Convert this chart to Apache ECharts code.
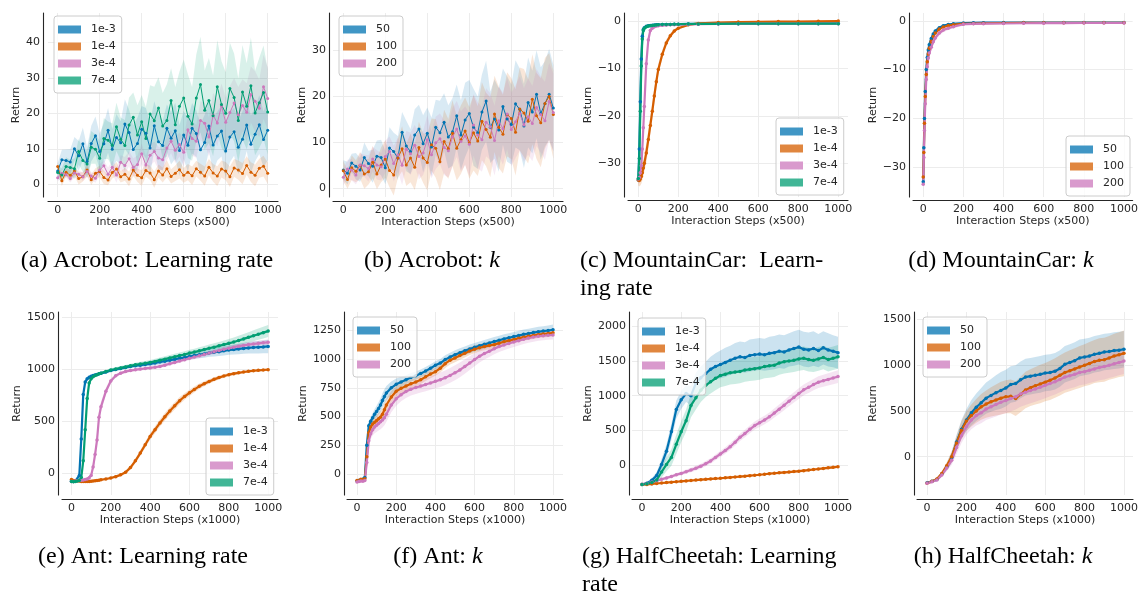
<!DOCTYPE html>
<html><head><meta charset="utf-8">
<script src="https://cdn.jsdelivr.net/npm/echarts@6/dist/echarts.min.js"></script>
<style>html,body{margin:0;padding:0;background:#fff}#c{width:1141px;height:597px}</style>
</head><body><div id="c"></div>
<script>
// ---------- x grids ----------
const acroSteps = [0,20,40,60,80,100,120,140,160,180,200,220,240,260,280,300,320,340,360,380,400,420,440,460,480,500,520,540,560,580,600,620,640,660,680,700,720,740,760,780,800,820,840,860,880,900,920,940,960,980,1000];
const mcarLrSteps = [0,5,10,15,20,25,30,40,50,60,70,80,90,100,120,140,160,180,200,250,300,400,500,600,700,800,900,1000];
const mcarKSteps = [0,3,6,10,15,20,25,30,40,50,60,80,100,125,150,200,250,300,400,500,600,700,800,900,1000];
const antSteps = [0,10,20,30,40,50,60,70,80,90,100,110,120,130,140,150,175,200,225,250,275,300,325,350,375,400,425,450,475,500,525,550,575,600,625,650,675,700,725,750,775,800,825,850,875,900,925,950,975,1000];
const cheetahSteps = [0,25,50,75,100,125,150,175,200,225,250,275,300,325,350,375,400,425,450,475,500,525,550,575,600,625,650,675,700,725,750,775,800,825,850,875,900,925,950,975,1000];

// ---------- tick labels ----------
const xTicks = [0,200,400,600,800,1000];
const yTicksA = [0,10,20,30,40];
const yTicksB = [0,10,20,30];
const yTicksC = [-30,-20,-10,0];
const yTicksD = [-30,-20,-10,0];
const yTicksE = [0,500,1000,1500];
const yTicksF = [0,250,500,750,1000,1250];
const yTicksG = [0,500,1000,1500,2000];
const yTicksH = [0,500,1000,1500];

// ---------- (a) Acrobot: learning rate ----------
const acroLr_1e3 = [3.7,6.9,6.7,6.3,10.0,8.0,11.4,6.4,11.5,13.7, 9.2,11.4,15.2,9.9,13.2,11.7,17.0,14.6,9.8,11.5, 15.5,14.4,10.2,16.5,12.0,10.9,15.8,13.0,15.1,9.5, 13.9,11.0,15.8,14.3,9.7,11.8,16.4,11.1,13.6,15.0, 9.4,13.3,14.8,10.4,12.7,16.7,11.3,14.1,16.8,12.6,15.2];
const acroLr_1e3_sd = [2.2,2.8,3.1,3.6,3.3,4.2,4.6,4.1,5.0,5.4, 5.1,5.9,6.3,5.7,6.6,6.1,7.0,6.4,6.8,7.3, 6.6,7.1,7.5,6.9,7.7,7.0,6.7,7.4,7.9,7.2, 6.8,7.5,7.1,6.6,7.3,7.8,7.0,7.6,6.9,7.2, 7.7,7.1,6.8,7.5,7.9,7.3,8.1,7.6,8.3,7.9,8.4];
const acroLr_1e4 = [5.0,1.0,3.4,2.5,3.7,1.6,2.1,4.0,1.3,3.1, 3.6,1.9,1.2,3.3,4.3,2.1,2.8,1.5,4.0,2.5, 1.8,3.9,3.2,1.3,3.7,2.6,4.4,2.2,3.1,4.1, 2.5,3.4,2.4,4.4,3.4,2.3,4.8,3.2,2.3,4.3, 3.7,2.1,4.6,4.0,3.0,5.3,3.4,2.5,4.5,5.1,3.1];
const acroLr_1e4_sd = [1.3,1.5,1.2,1.6,1.4,1.7,1.3,1.8,1.5,1.4, 1.6,1.9,1.5,1.7,2.0,1.6,1.8,2.1,1.7,1.9, 2.2,1.8,2.0,2.3,1.9,2.1,2.4,2.0,2.2,2.5, 2.1,2.3,2.6,2.2,2.4,2.7,2.3,2.5,2.8,2.4, 2.6,2.9,2.5,2.7,3.0,2.6,2.8,3.1,2.7,2.9,3.0];
const acroLr_3e4 = [1.8,3.1,2.7,1.6,3.2,2.8,2.1,3.6,2.3,1.7, 4.0,5.2,2.8,4.8,2.6,6.2,5.3,7.2,4.7,5.6, 8.6,5.4,8.2,9.2,7.4,6.9,10.2,12.1,9.6,11.2, 9.0,15.4,12.9,12.1,18.0,17.2,13.3,19.5,17.3,22.1, 17.5,20.2,22.9,19.6,22.2,20.3,25.3,23.4,21.4,27.5,24.2];
const acroLr_3e4_sd = [1.0,1.2,0.9,1.1,1.3,1.0,1.2,1.4,1.1,1.3, 1.7,1.5,1.9,1.8,2.2,2.0,2.4,2.1,2.6,2.5, 2.9,2.6,3.1,2.8,3.2,3.0,3.5,3.3,3.7,3.4, 4.0,4.3,4.9,4.6,5.4,5.8,5.5,6.2,6.6,6.3, 7.0,7.5,7.1,7.8,7.4,8.2,7.9,8.5,8.1,9.0,8.8];
const acroLr_7e4 = [3.3,2.6,5.0,4.7,4.4,9.2,6.7,5.7,10.4,9.9, 7.3,12.9,12.4,11.0,16.2,12.7,10.9,16.7,18.9,13.9, 17.6,12.9,19.8,17.9,21.5,16.4,18.0,23.6,16.8,22.0, 24.3,19.2,17.0,24.3,28.1,20.9,23.6,19.3,27.5,22.5, 20.0,27.0,24.5,18.0,26.0,22.0,27.8,20.1,23.0,25.9,20.4];
const acroLr_7e4_sd = [1.6,2.0,2.6,2.2,2.9,3.6,3.2,3.9,4.6,4.1, 5.0,5.8,5.3,6.2,6.8,6.1,7.2,7.8,7.0,8.4, 7.6,8.9,8.1,9.6,8.7,9.3,10.2,9.1,10.6,9.8, 10.9,11.8,10.4,12.3,13.5,11.2,12.0,11.4,13.1,12.2, 11.6,12.9,12.4,11.8,13.3,12.1,13.6,11.9,12.7,13.2,12.0];

// ---------- (b) Acrobot: k ----------
const acroK_50 = [3.9,3.2,5.4,4.7,3.9,6.6,5.3,4.7,6.9,6.6, 4.4,8.7,7.9,6.5,12.1,9.1,7.9,11.5,12.8,9.6, 11.9,8.9,13.2,12.0,14.3,11.1,12.2,15.7,11.5,14.8, 16.2,13.2,12.0,16.5,18.9,13.2,15.0,12.6,17.7,15.0, 13.8,18.3,17.1,13.5,18.6,16.5,20.4,16.2,18.3,20.4,17.4];
const acroK_50_sd = [2.1,2.5,2.0,2.9,2.6,3.3,2.8,3.6,3.4,3.9, 3.6,4.5,4.1,4.8,4.4,5.5,4.9,5.6,5.3,6.2, 5.6,6.4,6.0,7.0,6.3,6.9,7.4,6.8,7.6,8.1, 7.3,8.4,7.9,8.2,8.8,7.8,8.6,9.1,8.3,9.3, 8.7,9.5,8.9,9.2,9.8,9.0,9.6,10.1,9.3,9.9,9.4];
const acroK_100 = [3.7,1.8,4.4,3.6,4.9,3.0,3.5,5.6,3.0,5.0, 6.3,3.8,2.8,6.5,8.5,5.0,6.5,4.5,8.8,6.5, 5.5,9.4,8.6,5.7,10.1,8.5,11.9,8.6,10.5,12.4, 9.8,12.0,10.2,14.5,12.7,11.0,16.1,13.2,11.7,16.0, 15.1,12.1,17.2,16.3,14.5,19.3,15.7,14.2,18.4,19.9,16.0];
const acroK_100_sd = [2.2,2.0,2.7,2.4,2.9,3.2,2.8,3.5,3.3,3.8, 4.1,3.7,4.5,4.3,4.9,4.6,5.3,5.0,5.6,5.4, 6.1,5.7,6.4,6.2,6.9,6.5,7.2,7.0,7.5,7.3, 7.8,8.2,7.6,8.5,8.0,8.7,8.3,8.9,8.6,9.2, 8.8,9.4,9.0,9.6,9.2,9.8,9.4,9.7,9.9,9.5,9.6];
const acroK_200 = [2.3,4.1,3.9,2.8,5.0,4.8,4.2,6.3,5.0,4.6, 6.8,7.9,5.3,7.2,4.9,8.4,7.4,9.3,6.8,7.6, 10.5,7.2,9.8,10.7,8.8,8.1,11.1,12.8,10.1,11.3, 9.5,13.7,11.5,10.5,14.3,13.3,10.3,14.6,12.9,16.1, 12.7,14.4,16.2,13.7,15.5,14.0,17.5,16.0,14.6,18.8,16.4];
const acroK_200_sd = [1.8,2.0,2.3,2.1,2.6,2.4,2.9,2.7,3.2,3.0, 3.5,3.3,3.9,3.7,4.3,4.0,4.6,4.4,5.0,4.8, 5.3,5.1,5.7,5.5,6.0,5.8,6.3,6.1,6.6,6.4, 6.9,6.7,7.2,7.0,7.4,7.3,7.6,7.5,7.8,7.7, 8.0,7.9,8.1,8.0,8.3,8.2,8.4,8.3,8.5,8.4,8.5];

// ---------- (c) MountainCar: learning rate ----------
const mcarLr_1e3 = [-33.5,-27,-17,-8,-3.2,-1.8,-1.4, -1.1,-1.0,-0.95,-0.9,-0.85,-0.8,-0.8, -0.75,-0.7,-0.7,-0.65,-0.65, -0.6,-0.6, -0.55,-0.55,-0.5,-0.5,-0.5,-0.5,-0.5];
const mcarLr_1e3_sd = [1.0,1.5,1.8,1.5,1.0,0.6,0.4, 0.3,0.3,0.3,0.25,0.25,0.25,0.25, 0.2,0.2,0.2,0.2,0.2, 0.2,0.2, 0.2,0.2,0.2,0.2,0.2,0.2,0.2];
const mcarLr_1e4 = [-33.5,-33.6,-33.3,-32.8,-32.0,-31.0,-30.0, -27.8,-25.0,-22.0,-19.0,-15.8,-12.8,-10.2, -7.0,-4.6,-3.1,-2.1,-1.5, -0.8,-0.5, -0.3,-0.2,-0.15,-0.1,-0.1,-0.05,0.0];
const mcarLr_1e4_sd = [1.2,1.3,1.4,1.5,1.6,1.7,1.8, 2.0,2.0,1.9,1.8,1.6,1.4,1.2, 0.9,0.7,0.5,0.4,0.3, 0.2,0.2, 0.15,0.15,0.15,0.15,0.15,0.15,0.15];
const mcarLr_3e4 = [-33.3,-33.0,-32.0,-30.5,-27.0,-22.5,-18.0, -9.0,-4.0,-2.0,-1.5,-1.2,-1.05,-1.0, -0.9,-0.85,-0.8,-0.78,-0.75, -0.7,-0.65, -0.6,-0.58,-0.56,-0.55,-0.55,-0.55,-0.55];
const mcarLr_3e4_sd = [1.0,1.1,1.3,1.5,1.8,2.0,1.9, 1.2,0.8,0.5,0.4,0.3,0.3,0.3, 0.25,0.25,0.2,0.2,0.2, 0.2,0.2, 0.2,0.2,0.2,0.2,0.2,0.2,0.2];
const mcarLr_7e4 = [-33.2,-29,-19,-9.5,-3.8,-2.0,-1.5, -1.2,-1.05,-1.0,-0.95,-0.9,-0.85,-0.8, -0.75,-0.72,-0.7,-0.68,-0.66, -0.62,-0.6, -0.58,-0.56,-0.55,-0.55,-0.55,-0.55,-0.55];
const mcarLr_7e4_sd = [1.0,1.6,1.9,1.6,1.0,0.6,0.4, 0.3,0.3,0.3,0.25,0.25,0.25,0.25, 0.2,0.2,0.2,0.2,0.2, 0.2,0.2, 0.2,0.2,0.2,0.2,0.2,0.2,0.2];

// ---------- (d) MountainCar: k ----------
const mcarK_50 = [-33,-26,-20,-14.5,-10,-7.5,-6.0,-4.9, -3.6,-2.7,-2.1,-1.4,-1.0, -0.75,-0.6,-0.45,-0.4,-0.38, -0.36,-0.35,-0.35,-0.35,-0.35,-0.35,-0.35];
const mcarK_50_sd = [1.5,1.5,1.4,1.2,1.0,0.8,0.7,0.6, 0.5,0.4,0.35,0.3,0.25, 0.2,0.2,0.15,0.15,0.15, 0.1,0.1,0.1,0.1,0.1,0.1,0.1];
const mcarK_100 = [-32,-27,-21,-15.5,-11,-8.4,-6.8,-5.6, -4.2,-3.2,-2.5,-1.7,-1.25, -0.95,-0.8,-0.62,-0.55,-0.5, -0.45,-0.42,-0.42,-0.42,-0.42,-0.4,-0.4];
const mcarK_100_sd = [2.0,1.8,1.6,1.4,1.1,0.9,0.8,0.7, 0.6,0.5,0.4,0.35,0.3, 0.25,0.2,0.15,0.15,0.15, 0.1,0.1,0.1,0.1,0.1,0.1,0.1];
const mcarK_200 = [-33.5,-28,-22.5,-17,-12,-9.4,-7.6,-6.6, -5.4,-4.3,-3.5,-2.5,-1.9, -1.5,-1.2,-0.7,-0.62,-0.58, -0.55,-0.5,-0.48,-0.46,-0.45,-0.45,-0.45];
const mcarK_200_sd = [1.5,1.6,1.6,1.5,1.3,1.1,1.0,0.9, 0.8,0.7,0.6,0.5,0.45, 0.4,0.35,0.3,0.25,0.2, 0.15,0.15,0.15,0.15,0.15,0.15,0.15];

// ---------- (e) Ant: learning rate ----------
const antLr_1e3 = [-75,-78,-72,-65,-20,330,760,880,910,925, 935,942,948,952,958,965,975,990,1000,1010, 1020,1030,1036,1042,1048,1055,1063,1072,1080,1090, 1098,1108,1116,1125,1135,1142,1150,1160,1166,1172, 1180,1188,1192,1198,1203,1208,1212,1215,1218,1222];
const antLr_1e3_sd = [5,5,5,8,30,60,40,20,15,12, 12,12,12,12,12,12,14,15,16,17, 18,19,20,20,21,22,23,24,25,26, 27,28,29,30,32,34,36,38,40,42, 44,46,48,50,52,55,58,60,62,65];
const antLr_1e4 = [-60,-70,-75,-72,-75,-78,-80,-78,-80,-78, -76,-75,-72,-70,-66,-62,-55,-45,-32,-15, 10,55,120,195,275,355,420,485,545,600, 650,700,740,775,808,838,862,885,905,922, 937,950,960,968,976,982,988,992,995,998];
const antLr_1e4_sd = [5,5,5,5,5,5,5,5,5,5, 6,6,6,7,7,8,9,10,12,14, 16,18,22,26,30,32,34,35,36,36, 35,34,32,30,28,26,24,22,20,18, 17,16,15,14,13,12,12,11,11,10];
const antLr_3e4 = [-80,-78,-75,-72,-70,-68,-65,-60,-55,-45, -20,60,180,320,540,640,790,890,940,965, 980,990,998,1004,1010,1015,1022,1030,1042,1055, 1068,1082,1095,1108,1120,1132,1145,1158,1170,1182, 1195,1205,1215,1225,1232,1240,1246,1252,1258,1262];
const antLr_3e4_sd = [5,5,5,5,5,5,6,6,7,8, 20,40,55,60,60,50,35,25,18,15, 14,14,14,15,15,15,16,16,17,17, 18,18,19,19,20,20,21,21,22,22, 23,23,24,24,25,25,26,26,27,28];
const antLr_7e4 = [-80,-82,-78,-75,-70,-40,120,420,720,870, 910,930,942,950,958,965,980,995,1005,1015, 1025,1035,1045,1052,1060,1068,1078,1090,1100,1112, 1122,1135,1145,1158,1168,1180,1192,1205,1215,1228, 1240,1252,1265,1280,1295,1310,1325,1340,1355,1370];
const antLr_7e4_sd = [5,5,5,5,6,20,50,60,50,25, 15,14,14,14,14,14,15,16,17,18, 19,20,21,22,23,24,25,26,27,28, 29,30,31,32,33,34,35,36,37,38, 40,42,44,46,48,50,52,54,56,58];

// ---------- (f) Ant: k ----------
const antK_50 = [-60,-55,-50,-48,-30,250,420,460,490,520, 545,570,600,640,675,705,750,780,800,820, 840,855,875,895,920,945,965,995,1018,1038, 1055,1072,1088,1102,1115,1128,1140,1152,1163,1175, 1185,1195,1205,1215,1222,1230,1237,1243,1248,1255];
const antK_50_sd = [10,10,10,10,20,60,40,35,40,45, 50,55,60,62,62,60,55,50,45,40, 38,36,35,35,35,36,36,37,37,38, 38,38,38,38,38,38,38,39,39,40, 40,40,41,41,42,42,43,43,44,45];
const antK_100 = [-55,-60,-45,-50,-40,150,360,410,435,450, 465,480,495,520,560,600,670,720,745,765, 785,800,820,845,870,890,920,960,990,1010, 1030,1050,1070,1085,1098,1108,1118,1125,1138,1150, 1160,1170,1180,1190,1198,1205,1212,1218,1222,1228];
const antK_100_sd = [10,10,10,10,20,60,40,35,38,42, 46,50,52,54,55,55,52,48,45,42, 40,38,37,36,36,36,37,37,38,38, 37,36,35,34,33,32,32,31,31,30, 30,30,30,30,30,30,30,30,30,30];
const antK_200 = [-70,-65,-60,-62,-55,100,290,350,385,410, 425,440,455,470,490,520,600,655,690,718, 738,752,765,778,792,806,820,838,858,880, 905,935,965,995,1025,1048,1068,1090,1108,1122, 1135,1148,1160,1172,1182,1192,1198,1203,1207,1210];
const antK_200_sd = [10,10,10,10,20,50,45,45,50,55, 60,62,65,66,66,65,62,60,58,56, 55,55,56,57,58,60,62,63,64,65, 64,62,60,58,55,52,50,48,46,45, 44,43,42,42,41,41,40,40,40,40];

// ---------- (g) HalfCheetah: learning rate ----------
const cheeLr_1e3 = [-280,-260,-220,-150,10,200,480,800,940,1030, 1000,1180,1260,1320,1380,1420,1450,1480,1510,1540, 1560,1550,1580,1590,1600,1590,1610,1620,1640,1630, 1660,1680,1700,1670,1660,1680,1650,1690,1660,1640,1620];
const cheeLr_1e3_sd = [15,20,30,50,80,100,120,130,130,120, 140,150,160,170,180,190,200,210,210,220, 220,220,230,230,230,230,240,240,240,240, 240,250,250,250,250,250,240,240,240,230,230];
const cheeLr_1e4 = [-280,-278,-272,-265,-258,-252,-246,-240,-234,-228, -222,-216,-210,-205,-200,-195,-190,-184,-178,-172, -166,-160,-153,-146,-139,-132,-124,-118,-112,-106, -100,-94,-88,-80,-72,-64,-56,-48,-40,-32,-24];
const cheeLr_1e4_sd = [10,10,10,10,10,10,10,10,10,10, 10,10,12,12,12,12,12,13,13,13, 14,14,14,15,15,15,15,16,16,16, 17,17,17,18,18,18,18,19,19,19,20];
const cheeLr_3e4 = [-275,-265,-245,-225,-205,-185,-165,-140,-120,-95, -70,-45,-15,20,60,110,160,210,265,330, 400,455,515,570,610,650,695,750,805,862, 920,975,1030,1085,1120,1160,1195,1215,1235,1255,1275];
const cheeLr_3e4_sd = [10,12,15,18,20,22,24,26,28,30, 32,34,36,38,40,42,44,46,48,50, 52,54,56,58,60,62,64,66,68,70, 72,74,76,78,80,82,84,86,88,90,92];
const cheeLr_7e4 = [-280,-270,-250,-215,-100,10,110,300,480,640, 860,970,1080,1150,1200,1250,1290,1310,1330,1340, 1350,1370,1380,1390,1400,1420,1430,1440,1470,1490, 1500,1510,1530,1540,1520,1510,1530,1550,1520,1540,1560];
const cheeLr_7e4_sd = [15,20,30,50,80,100,120,140,150,160, 170,170,170,170,170,170,170,170,170,170, 170,170,170,170,170,170,170,170,170,170, 170,170,170,170,170,170,170,170,170,170,170];

// ---------- (h) HalfCheetah: k ----------
const cheeK_50 = [-285,-270,-250,-190,-110,-10,160,300,400,480, 540,590,640,670,700,725,750,790,800,840, 870,880,890,900,915,920,935,965,1010,1030, 1050,1080,1090,1100,1120,1130,1145,1150,1160,1165,1175];
const cheeK_50_sd = [10,12,15,25,40,60,80,100,120,140, 150,160,170,180,190,200,200,200,200,200, 200,200,200,200,200,200,200,200,200,200, 200,200,200,200,200,200,200,200,200,200,200];
const cheeK_100 = [-290,-270,-245,-185,-100,0,150,290,390,450, 500,545,575,600,620,640,655,660,635,680, 730,755,775,795,815,835,860,890,920,940, 960,980,1000,1020,1040,1055,1060,1080,1100,1115,1130];
const cheeK_100_sd = [10,12,15,25,40,60,80,100,110,120, 130,140,150,160,170,180,180,185,190,195, 200,200,205,210,210,215,215,220,220,225, 225,230,230,235,235,240,240,240,245,245,250];
const cheeK_200 = [-290,-275,-255,-200,-125,-40,100,230,330,400, 450,480,520,545,570,595,615,635,655,685, 705,725,740,760,780,800,820,845,870,885, 900,920,930,945,960,975,985,1000,1015,1030,1045];
const cheeK_200_sd = [10,12,15,25,35,50,70,80,90,100, 110,115,120,125,130,135,140,140,140,140, 140,140,140,140,140,140,140,140,140,140, 140,140,140,140,140,140,140,140,140,140,140];

// ---------- styling ----------
const LINE = {blue:'#0173b2', orange:'#d55e00', pink:'#cc78bc', green:'#029e73'};
const RGB = {blue:'1,115,178', orange:'213,94,0', pink:'204,120,188', green:'2,158,115'};
const PATCH = {blue:'#4096c5', orange:'#e0863f', pink:'#d99acd', green:'#41b696'};
const TXT = '#262626';
const SANS = 'DejaVu Sans';

const panels = [
  {box:[48,13,230,184], x:[-46,1049], y:[-3.6,48.3], yt:yTicksA, xoff:4, yoff:5, xname:'Interaction Steps (x500)', xgap:12, ygap:12, leg:[54,16], lw:1.0, ss:3, ba:0.15,
   lines:[['1e-3','blue',acroSteps,acroLr_1e3,acroLr_1e3_sd],['1e-4','orange',acroSteps,acroLr_1e4,acroLr_1e4_sd],['3e-4','pink',acroSteps,acroLr_3e4,acroLr_3e4_sd],['7e-4','green',acroSteps,acroLr_7e4,acroLr_7e4_sd]]},
  {box:[333,13,230,184], x:[-49,1046], y:[-2.0,38.1], yt:yTicksB, xoff:4, yoff:4, xname:'Interaction Steps (x500)', xgap:12, ygap:13, leg:[339,16], lw:1.0, ss:3, ba:0.15,
   lines:[['50','blue',acroSteps,acroK_50,acroK_50_sd],['100','orange',acroSteps,acroK_100,acroK_100_sd],['200','pink',acroSteps,acroK_200,acroK_200_sd]]},
  {box:[628,13,220,184], x:[-51.5,1048.5], y:[-37.1,1.7], yt:yTicksC, xoff:3, yoff:4, xname:'Interaction Steps (x500)', xgap:13, ygap:23, leg:[776,118], lw:2.2, ss:3.5, ba:0.2,
   lines:[['1e-3','blue',mcarLrSteps,mcarLr_1e3,mcarLr_1e3_sd],['1e-4','orange',mcarLrSteps,mcarLr_1e4,mcarLr_1e4_sd],['3e-4','pink',mcarLrSteps,mcarLr_3e4,mcarLr_3e4_sd],['7e-4','green',mcarLrSteps,mcarLr_7e4,mcarLr_7e4_sd]]},
  {box:[913,13,220,184], x:[-51,1043], y:[-36.1,1.6], yt:yTicksD, xoff:3, yoff:4, xname:'Interaction Steps (x500)', xgap:13, ygap:23, leg:[1066,136], lw:2.2, ss:3.5, ba:0.2,
   lines:[['50','blue',mcarKSteps,mcarK_50,mcarK_50_sd],['100','orange',mcarKSteps,mcarK_100,mcarK_100_sd],['200','pink',mcarKSteps,mcarK_200,mcarK_200_sd]]},
  {box:[62,312,216,183], x:[-48,1050], y:[-209,1554], yt:yTicksE, xoff:4, yoff:4, xname:'Interaction Steps (x1000)', xgap:12, ygap:27, leg:[206,418], lw:2.2, ss:3.5, ba:0.2,
   lines:[['1e-3','blue',antSteps,antLr_1e3,antLr_1e3_sd],['1e-4','orange',antSteps,antLr_1e4,antLr_1e4_sd],['3e-4','pink',antSteps,antLr_3e4,antLr_3e4_sd],['7e-4','green',antSteps,antLr_7e4,antLr_7e4_sd]]},
  {box:[347,312,216,183], x:[-51,1051], y:[-182,1409], yt:yTicksF, xoff:4, yoff:3, xname:'Interaction Steps (x1000)', xgap:12, ygap:28, leg:[353,317], lw:2.2, ss:3.5, ba:0.2,
   lines:[['50','blue',antSteps,antK_50,antK_50_sd],['100','orange',antSteps,antK_100,antK_100_sd],['200','pink',antSteps,antK_200,antK_200_sd]]},
  {box:[632,312,216,183], x:[-51,1051], y:[-431,2206], yt:yTicksG, xoff:4, yoff:3, xname:'Interaction Steps (x1000)', xgap:12, ygap:28, leg:[638,318], lw:2.2, ss:3.5, ba:0.2,
   lines:[['1e-3','blue',cheetahSteps,cheeLr_1e3,cheeLr_1e3_sd],['1e-4','orange',cheetahSteps,cheeLr_1e4,cheeLr_1e4_sd],['3e-4','pink',cheetahSteps,cheeLr_3e4,cheeLr_3e4_sd],['7e-4','green',cheetahSteps,cheeLr_7e4,cheeLr_7e4_sd]]},
  {box:[917,312,216,183], x:[-51,1046], y:[-419,1582], yt:yTicksH, xoff:4, yoff:3, xname:'Interaction Steps (x1000)', xgap:12, ygap:28, leg:[923,317], lw:2.2, ss:3.5, ba:0.2,
   lines:[['50','blue',cheetahSteps,cheeK_50,cheeK_50_sd],['100','orange',cheetahSteps,cheeK_100,cheeK_100_sd],['200','pink',cheetahSteps,cheeK_200,cheeK_200_sd]]}
];

const captions = [
  {x:147, y:247, text:'(a) Acrobot: Learning rate', align:'center'},
  {x:432, y:247, text:'(b) Acrobot: {i|k}', align:'center'},
  {x:580, y:247, text:'(c) MountainCar:  Learn-\ning rate', align:'left'},
  {x:1001, y:247, text:'(d) MountainCar: {i|k}', align:'center'},
  {x:143, y:543, text:'(e) Ant: Learning rate', align:'center'},
  {x:438, y:543, text:'(f) Ant: {i|k}', align:'center'},
  {x:582, y:543, text:'(g) HalfCheetah: Learning\nrate', align:'left'},
  {x:1003, y:543, text:'(h) HalfCheetah: {i|k}', align:'center'}
];

function fmt(v){ return v < 0 ? '\u2212' + (-v) : String(v); }

function bandRender(xs, m, s, fill){
  return function(params, api){
    const pts = [];
    for (let k = 0; k < xs.length; k++) pts.push(api.coord([xs[k], m[k] + s[k]]));
    for (let k = xs.length - 1; k >= 0; k--) pts.push(api.coord([xs[k], m[k] - s[k]]));
    return {type:'polygon', shape:{points:pts}, style:{fill:fill}};
  };
}

const option = {animation:false, backgroundColor:'#fff', grid:[], xAxis:[], yAxis:[], legend:[], series:[], graphic:{elements:[]}};

panels.forEach(function(p, i){
  option.grid.push({left:p.box[0], top:p.box[1], width:p.box[2], height:p.box[3]});
  option.xAxis.push({type:'value', gridIndex:i, min:p.x[0], max:p.x[1], offset:p.xoff,
    name:p.xname, nameLocation:'middle', nameGap:p.xgap, nameTextStyle:{color:TXT, fontSize:11, fontFamily:SANS},
    axisLine:{show:true, onZero:false, lineStyle:{color:TXT, width:1.1}},
    axisTick:{show:false, customValues:xTicks},
    axisLabel:{customValues:xTicks, margin:4, color:TXT, fontSize:11, fontFamily:SANS, formatter:fmt},
    splitLine:{show:true, lineStyle:{color:'#ececec', width:1}}});
  option.yAxis.push({type:'value', gridIndex:i, min:p.y[0], max:p.y[1], offset:p.yoff,
    name:'Return', nameLocation:'middle', nameGap:p.ygap, nameTextStyle:{color:TXT, fontSize:11, fontFamily:SANS},
    axisLine:{show:true, onZero:false, lineStyle:{color:TXT, width:1.1}},
    axisTick:{show:false, customValues:p.yt},
    axisLabel:{customValues:p.yt, margin:3, color:TXT, fontSize:11, fontFamily:SANS, formatter:fmt},
    splitLine:{show:true, lineStyle:{color:'#ececec', width:1}}});
  option.legend.push({left:p.leg[0], top:p.leg[1], orient:'vertical', icon:'rect', itemWidth:23, itemHeight:8, itemGap:4,
    padding:[7,6,6,4], borderColor:'#cccccc', borderWidth:1, borderRadius:3, backgroundColor:'rgba(255,255,255,0.8)',
    selectedMode:false, itemStyle:{borderWidth:0},
    textStyle:{color:TXT, fontSize:11, fontFamily:SANS, lineHeight:13, padding:[0,0,0,5]},
    data:p.lines.map(function(l){ return {name:l[0], itemStyle:{color:PATCH[l[1]]}}; })});
  p.lines.forEach(function(l){
    option.series.push({type:'custom', name:l[0] + ' band', xAxisIndex:i, yAxisIndex:i, silent:true, z:1,
      data:[[l[2][0], l[3][0]]], renderItem:bandRender(l[2], l[3], l[4], 'rgba(' + RGB[l[1]] + ',' + p.ba + ')')});
  });
  p.lines.forEach(function(l){
    option.series.push({type:'line', name:l[0], xAxisIndex:i, yAxisIndex:i, silent:true, z:3,
      data:l[2].map(function(x, k){ return [x, l[3][k]]; }),
      symbol:'circle', symbolSize:p.ss, showSymbol:true,
      lineStyle:{color:LINE[l[1]], width:p.lw}, itemStyle:{color:LINE[l[1]]}});
  });
});

captions.forEach(function(c){
  option.graphic.elements.push({type:'text', x:c.x, y:c.y, silent:true,
    style:{text:c.text, fill:'#000', fontSize:24, fontFamily:'Liberation Serif', lineHeight:28,
      align:c.align, textAlign:c.align, verticalAlign:'top', textVerticalAlign:'top',
      rich:{i:{fontStyle:'italic', fontSize:24, fontFamily:'Liberation Serif', lineHeight:28}}}});
});

const chart = echarts.init(document.getElementById('c'), null, {renderer:'canvas'});
chart.setOption(option);
</script>
</body></html>
